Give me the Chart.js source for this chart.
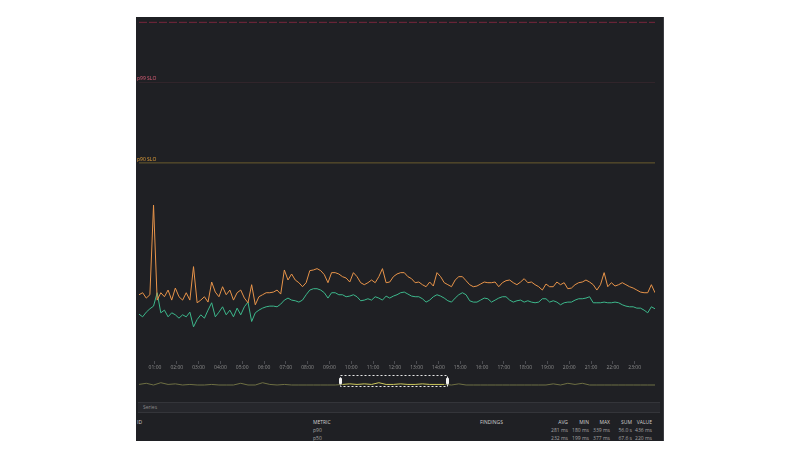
<!DOCTYPE html>
<html>
<head>
<meta charset="utf-8">
<script src="https://cdn.jsdelivr.net/npm/chart.js@4.4.1/dist/chart.umd.min.js"></script>
<style>
body { margin: 0; background: #fff; width: 800px; height: 456px; position: relative; overflow: hidden; font-family: "Open Sans", "Noto Sans", sans-serif; }
#panel { position: absolute; left: 136px; top: 17px; width: 527px; height: 424px; background: #1f2024; border-right: 1px solid #3b3c41; overflow: hidden; }
#main { position: absolute; left: 0; top: 0; }
#overview { position: absolute; left: 0; top: 358px; }
#series { position: absolute; left: 2px; top: 385px; width: 517px; height: 9px; background: #26272c; border-top: 1px solid #34353a; border-bottom: 1px solid #34353a; color: #8c8c8c; font-size: 5px; line-height: 9px; padding-left: 5px; box-sizing: content-box; }
.cell { position: absolute; font-size: 5px; line-height: 6px; white-space: nowrap; }
.head { color: #cfcfcf; }
.val { color: #a5a5a5; }
.right { text-align: right; width: 30px; }
</style>
</head>
<body>
<div id="panel">
  <canvas id="main" width="524" height="358"></canvas>
  <canvas id="overview" width="524" height="18"></canvas>
  <div id="series">Series</div>
  <div id="table"></div>
</div>
<script>
// samples every 10 minutes from 00:16
const startMinute = 16;
const stepMinutes = 10;
const overviewStep = 20;

const hourLabels = ['01:00', '02:00', '03:00', '04:00', '05:00', '06:00', '07:00', '08:00', '09:00', '10:00', '11:00', '12:00',
    '13:00', '14:00', '15:00', '16:00', '17:00', '18:00', '19:00', '20:00', '21:00', '22:00', '23:00'];

// p90 latency, ms
const p90Values = [
    233, 236, 228, 233, 367, 225, 236, 230, 240, 225,
    243, 230, 225, 236, 225, 275, 221, 225, 230, 222,
    252, 237, 230, 245, 233, 240, 225, 236, 240, 228,
    221, 248, 218, 230, 233, 236, 236, 237, 240, 234,
    270, 255, 264, 255, 251, 245, 251, 269, 270, 272,
    269, 263, 251, 266, 266, 264, 260, 258, 252, 266,
    260, 251, 248, 251, 255, 251, 260, 272, 251, 252,
    260, 264, 266, 266, 260, 257, 251, 252, 248, 245,
    252, 246, 266, 260, 251, 248, 245, 255, 260, 260,
    254, 248, 245, 246, 249, 252, 251, 251, 252, 245,
    251, 254, 255, 251, 248, 252, 257, 251, 252, 248,
    245, 240, 249, 245, 245, 252, 248, 251, 242, 243,
    248, 251, 252, 255, 252, 248, 240, 248, 266, 245,
    251, 246, 248, 251, 248, 245, 243, 240, 237, 236,
    236, 248, 236
];

// p50 latency, ms
const p50Values = [
    204, 200, 207, 212, 216, 236, 206, 210, 200, 206,
    203, 198, 203, 200, 207, 185, 196, 203, 198, 210,
    221, 200, 207, 215, 203, 210, 200, 213, 203, 215,
    222, 193, 206, 210, 213, 215, 216, 216, 215, 219,
    225, 228, 225, 224, 222, 225, 233, 240, 242, 242,
    240, 236, 228, 236, 236, 233, 233, 230, 231, 233,
    230, 224, 225, 227, 225, 230, 228, 225, 231, 228,
    231, 233, 236, 237, 234, 231, 230, 230, 227, 222,
    225, 230, 233, 231, 228, 224, 222, 228, 233, 236,
    233, 224, 222, 222, 225, 228, 227, 222, 225, 228,
    230, 230, 225, 222, 224, 225, 222, 224, 222, 221,
    222, 227, 227, 222, 224, 222, 218, 221, 222, 222,
    225, 227, 227, 228, 230, 221, 221, 221, 222, 221,
    221, 222, 221, 218, 216, 215, 215, 213, 213, 210,
    206, 215, 212
];

// mini navigator strip, every 20 minutes
const overviewValues = [
    1, 3, 0, 4, 1, 2, 0, 1, 0, 0,
    1, 0, 0, 0, 3, 0, 0, 4, 1, 0,
    1, 0, 0, 0, 0, 0, 0, 0, 1, 2,
    1, 2, 1, 4, 1, 1, 2, 1, 1, 2,
    1, 1, 1, 0, 2, 0, 0, 0, 0, 0,
    0, 0, 0, 0, 0, 0, 0, 2, 0, 3,
    1, 3, 0, 0, 0, 0, 0, 0, 0, 0,
    0, 0
];

const sloValues = [640, 550, 430];
const sloLabels = ['', 'p99 SLO', 'p90 SLO'];
const selectionRange = [570, 864];

const tableHeader = ['AVG', 'MIN', 'MAX', 'SUM', 'VALUE'];
const tableMetrics = ['p90', 'p50'];
const tableStats = [
    ['281 ms', '180 ms', '339 ms', '56.0 s', '436 ms'],
    ['232 ms', '199 ms', '377 ms', '67.6 s', '220 ms']
];

const sloStyles = [
    { line: 'rgba(130,38,62,0.9)', text: '#e0607a', dash: [8, 2] },
    { line: 'rgba(200,80,110,0.12)', text: '#e0607a', dash: [] },
    { line: '#6a5a2e', text: '#e8a33a', dash: [] }
];

Chart.defaults.font.family = '"Open Sans", "Noto Sans", sans-serif';

const xMin = startMinute;
const xMax = startMinute + (p90Values.length - 1) * stepMinutes;
const toPoints = values => values.map((v, i) => ({ x: startMinute + i * stepMinutes, y: v }));

let datasets = sloValues.map((v, i) => ({
    data: [{ x: xMin, y: v }, { x: xMax, y: v }],
    borderColor: sloStyles[i].line,
    borderDash: sloStyles[i].dash,
    borderWidth: 1,
    pointRadius: 0
}));
datasets.push({ data: toPoints(p90Values), borderColor: '#e8944a', borderWidth: 1, pointRadius: 0 });
datasets.push({ data: toPoints(p50Values), borderColor: '#3db88c', borderWidth: 1, pointRadius: 0 });

const sloText = {
    id: 'sloText',
    afterDatasetsDraw(chart) {
        let ctx = chart.ctx;
        let y = chart.scales.y;
        ctx.save();
        ctx.font = '5px "Open Sans", sans-serif';
        ctx.textBaseline = 'bottom';
        sloValues.forEach((v, i) => {
            if (!sloLabels[i]) return;
            ctx.fillStyle = sloStyles[i].text;
            ctx.fillText(sloLabels[i], 1, y.getPixelForValue(v) - 1);
        });
        ctx.restore();
    }
};

new Chart(document.getElementById('main'), {
    type: 'line',
    data: { datasets: datasets },
    plugins: [sloText],
    options: {
        responsive: false,
        animation: false,
        layout: { padding: { left: 3, top: 4, right: 5, bottom: 0 } },
        plugins: { legend: { display: false }, tooltip: { enabled: false } },
        scales: {
            x: {
                type: 'linear',
                min: xMin,
                max: xMax,
                afterBuildTicks: s => { s.ticks = hourLabels.map(l => ({ value: parseInt(l) * 60 })); },
                afterFit: s => { s.height = 14; },
                ticks: {
                    autoSkip: false,
                    maxRotation: 0,
                    padding: 1,
                    color: '#8e8e8e',
                    font: { size: 5 },
                    callback: v => hourLabels[v / 60 - 1]
                },
                grid: { drawOnChartArea: false, tickLength: 3, color: '#4a4b50' },
                border: { display: false }
            },
            y: {
                min: 134,
                max: 642,
                afterFit: s => { s.width = 0; },
                ticks: { display: false, stepSize: 100 },
                grid: {
                    drawTicks: false,
                    color: c => c.tick.value % 100 === 0 ? 'rgba(255,255,255,0.05)' : 'rgba(0,0,0,0)'
                },
                border: { display: false }
            }
        }
    }
});

const selectionBox = {
    id: 'selectionBox',
    afterDatasetsDraw(chart) {
        let ctx = chart.ctx;
        let x = chart.scales.x;
        let area = chart.chartArea;
        let x0 = Math.round(x.getPixelForValue(selectionRange[0])) + 0.5;
        let x1 = Math.round(x.getPixelForValue(selectionRange[1])) + 0.5;
        ctx.save();
        ctx.strokeStyle = '#e6e6e6';
        ctx.lineWidth = 1;
        ctx.setLineDash([2, 2]);
        ctx.strokeRect(x0, area.top - 1.5, x1 - x0, area.bottom - area.top + 3);
        ctx.setLineDash([]);
        ctx.fillStyle = '#f2f2f2';
        [x0, x1].forEach(px => {
            ctx.beginPath();
            ctx.roundRect(px - 1.5, area.top + 0.5, 3, 7, 1.5);
            ctx.fill();
        });
        ctx.restore();
    }
};

const inSelection = v => v >= selectionRange[0] && v <= selectionRange[1];

new Chart(document.getElementById('overview'), {
    type: 'line',
    data: {
        datasets: [{
            data: overviewValues.map((v, i) => ({ x: startMinute + i * overviewStep, y: v })),
            borderColor: '#6f7044',
            borderWidth: 1,
            pointRadius: 0,
            clip: false,
            segment: {
                borderColor: c => inSelection(c.p0.parsed.x) && inSelection(c.p1.parsed.x) ? '#cdc85c' : '#6f7044'
            }
        }]
    },
    plugins: [selectionBox],
    options: {
        responsive: false,
        animation: false,
        layout: { padding: { left: 3, top: 2, right: 5, bottom: 8 } },
        plugins: { legend: { display: false }, tooltip: { enabled: false } },
        scales: {
            x: { type: 'linear', min: xMin, max: xMax, display: false },
            y: { min: 0, max: 14, display: false }
        }
    }
});

// legend table under the chart
function addCell(text, left, top, cls, right) {
    let d = document.createElement('div');
    d.className = 'cell ' + cls + (right ? ' right' : '');
    d.textContent = text;
    d.style.left = (right ? left - 30 : left) + 'px';
    d.style.top = top + 'px';
    document.getElementById('table').appendChild(d);
}

const statRight = [432, 453, 474, 496, 516];
addCell('ID', 1, 402, 'head');
addCell('METRIC', 177, 402, 'head');
addCell('FINDINGS', 344, 402, 'head');
tableHeader.forEach((h, i) => addCell(h, statRight[i], 402, 'head', true));
tableMetrics.forEach((m, r) => {
    let top = 410 + r * 8;
    addCell(m, 177, top, 'val');
    tableStats[r].forEach((s, i) => addCell(s, statRight[i], top, 'val', true));
});
</script>
</body>
</html>
